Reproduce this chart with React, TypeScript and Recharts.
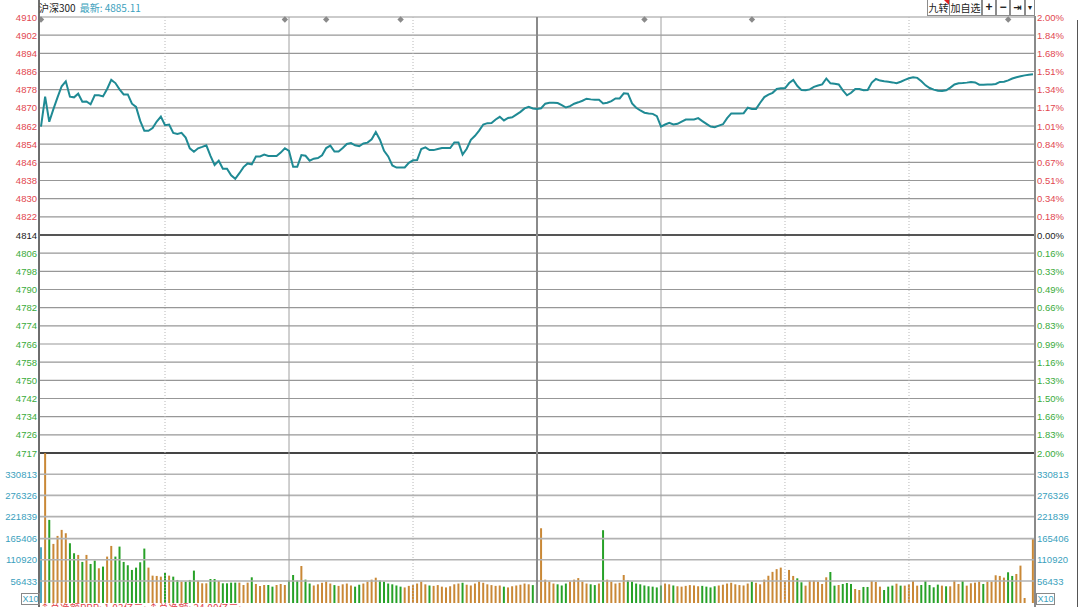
import React from 'react';
import { ComposedChart, BarChart, Line, Bar, Cell, XAxis, YAxis, ReferenceLine, ReferenceDot } from 'recharts';

const PREV_CLOSE = 4814.1;
const LATEST = '4885.11';

const priceTickLabels = ['4910','4902','4894','4886','4878','4870','4862','4854','4846','4838','4830','4822','4814','4806','4798','4790','4782','4774','4766','4758','4750','4742','4734','4726','4717'];
const pctTickLabels = ['2.00%','1.84%','1.68%','1.51%','1.34%','1.17%','1.01%','0.84%','0.67%','0.51%','0.34%','0.18%','0.00%','0.16%','0.33%','0.49%','0.66%','0.83%','0.99%','1.16%','1.33%','1.50%','1.66%','1.83%','2.00%'];
const volTicks = [56433, 110920, 165406, 221839, 276326, 330813];
const volTop = 385300;

const prices = [
  4862.0, 4875.2, 4864.1, 4869.7, 4874.9, 4879.8, 4882.0, 4875.2, 4874.9, 4876.5,
  4873.0, 4873.1, 4871.8, 4875.8, 4875.8, 4875.3, 4878.6, 4882.6, 4881.2, 4878.4,
  4876.2, 4876.2, 4872.1, 4870.7, 4864.5, 4860.1, 4860.1, 4861.3, 4864.2, 4866.4,
  4862.6, 4862.9, 4859.2, 4858.7, 4859.2, 4857.1, 4852.4, 4850.9, 4852.4, 4853.0,
  4853.7, 4849.0, 4845.0, 4846.9, 4843.4, 4843.4, 4840.5, 4838.9, 4841.4, 4844.1,
  4845.7, 4845.3, 4848.8, 4848.8, 4849.6, 4849.0, 4849.0, 4849.0, 4850.5, 4852.4,
  4851.2, 4844.2, 4844.2, 4849.4, 4849.1, 4846.9, 4847.8, 4848.1, 4849.3, 4852.5,
  4853.6, 4851.0, 4851.0, 4852.5, 4854.3, 4854.7, 4853.7, 4853.3, 4854.5, 4854.9,
  4856.4, 4859.6, 4856.2, 4851.3, 4848.8, 4844.8, 4843.9, 4843.9, 4843.9, 4846.0,
  4847.1, 4847.2, 4852.1, 4852.8, 4851.6, 4851.6, 4852.1, 4852.5, 4852.5, 4852.5,
  4855.0, 4855.0, 4849.6, 4852.2, 4856.1, 4857.9, 4860.2, 4862.9, 4863.5, 4863.6,
  4865.1, 4866.3, 4864.7, 4865.8, 4866.1, 4867.3, 4868.5, 4870.0, 4870.7, 4870.0,
  4869.8, 4870.1, 4872.1, 4872.5, 4872.5, 4872.4, 4871.5, 4870.4, 4871.0, 4872.1,
  4872.7, 4873.4, 4874.3, 4874.0, 4873.8, 4873.8, 4872.2, 4872.5, 4873.2, 4874.4,
  4874.4, 4876.7, 4876.5, 4872.2, 4870.3, 4869.1, 4868.1, 4867.8, 4867.6, 4866.6,
  4862.0, 4862.9, 4863.6, 4862.9, 4863.2, 4864.2, 4865.1, 4865.1, 4865.1, 4865.7,
  4864.4, 4863.2, 4862.0, 4861.7, 4862.4, 4863.0, 4865.7, 4867.8, 4867.8, 4867.8,
  4867.9, 4870.3, 4869.8, 4869.8, 4872.5, 4875.0, 4876.1, 4876.9, 4878.6, 4878.9,
  4878.9, 4881.2, 4882.6, 4879.9, 4878.1, 4878.0, 4878.4, 4879.5, 4880.1, 4880.6,
  4883.2, 4881.1, 4880.9, 4880.6, 4878.0, 4875.8, 4876.9, 4878.6, 4878.6, 4878.0,
  4878.1, 4881.4, 4883.0, 4882.3, 4882.0, 4881.8, 4881.5, 4881.1, 4881.8, 4882.6,
  4883.3, 4883.8, 4883.5, 4882.0, 4880.2, 4879.0, 4878.3, 4877.8, 4877.7, 4878.0,
  4879.2, 4880.6, 4881.1, 4881.2, 4881.4, 4881.7, 4881.5, 4880.5, 4880.5, 4880.6,
  4880.6, 4880.8, 4881.7, 4881.8, 4882.4, 4883.2, 4883.8, 4884.2, 4884.6, 4884.9,
  4885.11,
];

const volumes = [
  143000, 385000, 213500, 151800, 172300, 187800, 179200, 153500, 127800, 123500,
  105500, 123500, 100300, 108900, 89200, 93500, 119200, 146600, 119200, 144900,
  105500, 96900, 84900, 90900, 104600, 139800, 90900, 70300, 69500, 67700,
  77200, 70300, 67700, 59200, 54900, 54900, 59200, 83200, 57400, 50600,
  50600, 61700, 61700, 56600, 50600, 50600, 52300, 52300, 52300, 46300,
  52300, 66000, 48900, 43700, 46300, 46300, 42000, 46300, 48900, 46300,
  57400, 72000, 57400, 95000,
  60000, 50000, 45000, 48000, 52000, 55000, 50000, 46000, 44000, 48000, 50000, 45000, 42000, 47000, 50000, 55000, 60000,
  65000, 58000, 55000, 50000, 48000, 45000, 42000, 40000, 44000, 46000,
  50000, 55000, 48000, 45000, 44000, 46000, 42000, 40000, 43000, 48000,
  50000, 52000, 47000, 45000, 50000, 55000, 52000, 48000, 46000, 44000,
  45000, 42000, 40000, 43000, 45000, 47000, 50000, 48000, 46000, 52000,
  192000,
  60000, 55000, 50000, 48000, 45000, 50000, 55000, 60000, 64000,
  55000, 50000, 48000, 46000, 50000, 187000, 60000, 55000, 50000, 52000,
  72000, 58000, 55000, 50000, 48000, 45000, 43000, 42000, 40000, 45000,
  50000, 48000, 45000, 43000, 42000, 44000, 46000, 45000, 43000, 44000,
  42000, 40000, 43000, 45000, 47000, 50000, 52000, 48000, 46000, 45000,
  50000, 55000, 52000, 48000, 60000, 70000, 80000, 87000,
  90900, 57400, 84900, 69500, 63400, 53200, 44600, 57400, 57400, 54900,
  48900, 66000, 79700, 44600, 46300, 48900, 51400, 48900, 36000, 33400,
  41200, 41200, 56600, 54000, 42000, 33400, 42000, 44600, 49700, 44600,
  44600, 48000, 56600, 44600, 46300, 56600, 46300, 40300, 47200, 44600,
  42900, 42900, 57400, 48900, 56600, 44600, 50600, 52300, 54900, 48900,
  54900, 54900, 71200, 69500, 65200, 78900, 69500, 74600, 96000, 12900,
  0, 164600,
];

// t = opening auction, u = up minute, d = down minute
const volumeDirections = [
  'tuduuuuddu', 'dudduduudd', 'dddddduuuu', 'duddudddu u'.replace(' ', ''), 'uddudddduu',
  'uduuudduuu', 'dddudduuuu', 'uduuuudduu', 'uudddddduu', 'uuuuduuuuu',
  'uuduuuuuuu', 'uuduuuuuud', 'duuuudddu u'.replace(' ', ''), 'uuuddudu uu'.replace(' ', ''), 'uudddddddd',
  'duuduuuuuu', 'dddduuuuuu', 'uuduuuuuuu', 'uuudduuuuu', 'udduddduud',
  'duuudddudu', 'uuudddddud', 'uuuduuuudu', 'uuuudduuuu', 'u',
].join('');

const markerTimes = ['09:30', '10:29', '10:39', '10:57', '13:26', '13:52', '14:54'];
const halfHourTimes = ['10:00', '10:30', '11:00', '11:30', '13:30', '14:00', '14:30'];
const solidTimes = ['10:30', '13:30'];

const pad = (n: number) => (n < 10 ? '0' + n : '' + n);
const times: string[] = [];
for (let k = 0; k <= 240; k++) {
  const m = k <= 120 ? 570 + k : 780 + (k - 120);
  times.push(pad(Math.floor(m / 60)) + ':' + pad(m % 60));
}

const rows = times.map((t, k) => ({ t, price: prices[k], vol: volumes[k], dir: volumeDirections[k] || 'u' }));

const priceTicks = priceTickLabels.map((_, i) => PREV_CLOSE * (1 + ((12 - i) * 0.02) / 12));
const pLow = priceTicks[24];
const pHigh = priceTicks[0];

const RED = '#e2474f';
const GREEN = '#3aab3a';
const TEAL = '#3a9fbd';
const LINE = '#1f8a94';
const UP = '#c98836';
const DOWN = '#27a127';
const FONT = '"Liberation Sans", Arial, sans-serif';
const CJK = '"Noto Sans CJK SC", "Liberation Sans", sans-serif';

const tickColor = (i: number) => (i < 12 ? RED : i === 12 ? '#222' : GREEN);
const findIdx = (v: number) => {
  let best = 0;
  priceTicks.forEach((p, i) => { if (Math.abs(p - v) < Math.abs(priceTicks[best] - v)) best = i; });
  return best;
};

const LeftTick = (props: any) => {
  const { x, y, payload } = props;
  const i = findIdx(payload.value);
  return (
    <text x={x} y={y} dy={3.5} textAnchor="end" fontSize={9.5} fontFamily={FONT} fill={tickColor(i)}>{priceTickLabels[i]}</text>
  );
};
const RightTick = (props: any) => {
  const { x, y, payload } = props;
  const i = findIdx(payload.value);
  return (
    <text x={x} y={y} dy={3.5} textAnchor="start" fontSize={9.5} fontFamily={FONT} fill={tickColor(i)}>{pctTickLabels[i]}</text>
  );
};
const VolLeftTick = (props: any) => {
  const { x, y, payload } = props;
  return <text x={x} y={y} dy={3.5} textAnchor="end" fontSize={9.5} fontFamily={FONT} fill={TEAL}>{payload.value}</text>;
};
const VolRightTick = (props: any) => {
  const { x, y, payload } = props;
  return <text x={x} y={y} dy={3.5} textAnchor="start" fontSize={9.5} fontFamily={FONT} fill={TEAL}>{payload.value}</text>;
};

const Diamond = (props: any) => {
  const { cx, cy } = props;
  const c = cy + 2.5;
  return <path d={`M${cx},${c - 3.2}L${cx + 3.2},${c}L${cx},${c + 3.2}L${cx - 3.2},${c}Z`} fill="#8a8a8a" />;
};

const btn = (left: number, width: number, label: string, extra?: React.CSSProperties) => (
  <div style={{ position: 'absolute', left, top: 0, width, height: 16, border: '1px solid #8c8c8c', borderTop: 'none', background: '#fff', fontSize: 10, lineHeight: '15px', textAlign: 'center', color: '#222', fontFamily: CJK, boxSizing: 'border-box', whiteSpace: 'nowrap', overflow: 'visible', ...extra }}>{label}</div>
);

export default function App() {
  return (
    <div style={{ position: 'absolute', left: 0, top: 0, width: 1080, height: 607, background: '#fff', overflow: 'hidden', fontFamily: FONT }}>
      <ComposedChart width={1080} height={463} data={rows} margin={{ top: 17, right: 0, bottom: 10, left: 0 }} style={{ position: 'absolute', left: 0, top: 0 }}>
        <XAxis dataKey="t" hide padding={{ left: 2, right: 2 }} />
        <YAxis yAxisId="l" domain={[pLow, pHigh]} ticks={priceTicks} interval={0} allowDataOverflow width={39} axisLine={false} tickLine={false} tickSize={0} tickMargin={2} tick={<LeftTick />} />
        <YAxis yAxisId="r" orientation="right" domain={[pLow, pHigh]} ticks={priceTicks} interval={0} allowDataOverflow width={45} axisLine={false} tickLine={false} tickSize={0} tickMargin={2} tick={<RightTick />} />
        {priceTicks.map((v, i) => (
          <ReferenceLine key={'h' + i} yAxisId="l" y={v} stroke={i === 12 ? '#555' : i === 24 ? '#444' : '#979797'} strokeWidth={i === 12 || i === 24 ? 2 : 1.2} ifOverflow="visible" />
        ))}
        {halfHourTimes.map((t) => (
          <ReferenceLine key={'v' + t} yAxisId="l" x={t} stroke={t === '11:30' ? '#8a8a8a' : solidTimes.includes(t) ? '#a0a0a0' : '#b8b8b8'} strokeWidth={t === '11:30' ? 2 : 1} strokeDasharray={t === '11:30' || solidTimes.includes(t) ? undefined : '1 2'} />
        ))}
        <Line yAxisId="l" type="linear" dataKey="price" stroke={LINE} strokeWidth={2} dot={false} isAnimationActive={false} />
        {markerTimes.map((t) => (
          <ReferenceDot key={'m' + t} yAxisId="l" x={t} y={pHigh} r={3} shape={<Diamond />} ifOverflow="visible" />
        ))}
      </ComposedChart>

      <BarChart width={1080} height={154} data={rows} margin={{ top: 0, right: 0, bottom: 4, left: 0 }} barCategoryGap={0} style={{ position: 'absolute', left: 0, top: 453 }}>
        <XAxis dataKey="t" hide />
        <YAxis yAxisId="l" domain={[0, volTop]} ticks={volTicks} interval={0} allowDataOverflow width={39} axisLine={false} tickLine={false} tickSize={0} tickMargin={2} tick={<VolLeftTick />} />
        <YAxis yAxisId="r" orientation="right" domain={[0, volTop]} ticks={volTicks} interval={0} allowDataOverflow width={45} axisLine={false} tickLine={false} tickSize={0} tickMargin={2} tick={<VolRightTick />} />
        {volTicks.map((v) => (
          <ReferenceLine key={'vh' + v} yAxisId="l" y={v} stroke="#b2b2b2" strokeWidth={1.6} />
        ))}
        {halfHourTimes.map((t) => (
          <ReferenceLine key={'vv' + t} yAxisId="l" x={t} stroke={t === '11:30' ? '#8a8a8a' : solidTimes.includes(t) ? '#a0a0a0' : '#b8b8b8'} strokeWidth={t === '11:30' ? 2 : 1} strokeDasharray={t === '11:30' || solidTimes.includes(t) ? undefined : '1 2'} />
        ))}
        <Bar yAxisId="l" dataKey="vol" barSize={2} isAnimationActive={false}>
          {rows.map((r, i) => (
            <Cell key={i} fill={r.dir === 't' ? '#4fa8c0' : r.dir === 'd' ? DOWN : UP} />
          ))}
        </Bar>
      </BarChart>

      {/* frame lines */}
      <div style={{ position: 'absolute', left: 38, top: 0, width: 2, height: 607, background: '#6e6e6e' }} />
      <div style={{ position: 'absolute', left: 1034, top: 16, width: 2, height: 591, background: '#8a8a8a' }} />
      <div style={{ position: 'absolute', left: 1077, top: 20, width: 1, height: 587, background: '#555' }} />

      {/* header */}
      <div style={{ position: 'absolute', left: 39, top: 1, fontSize: 10, lineHeight: '13px', whiteSpace: 'nowrap', fontFamily: CJK }}>
        <span style={{ color: '#222' }}>沪深300</span>
        <span style={{ color: TEAL, marginLeft: 4 }}>最新: {LATEST}</span>
      </div>
      {btn(927, 23, '九转')}
      <div style={{ position: 'absolute', left: 944, top: 0, width: 0, height: 0, borderTop: '5px solid #e02020', borderLeft: '5px solid transparent' }} />
      {btn(949, 33, '加自选')}
      {btn(982, 14, '+', { fontWeight: 700, fontSize: 12, fontFamily: FONT, lineHeight: '14px' })}
      {btn(996, 14, '−', { fontWeight: 700, fontSize: 12, fontFamily: FONT, lineHeight: '14px' })}
      {btn(1010, 15, '⇥', { fontWeight: 700, fontSize: 10, fontFamily: '"DejaVu Sans", sans-serif' })}
      {btn(1025, 10, '▾', { fontSize: 8, fontFamily: '"DejaVu Sans", sans-serif' })}

      {/* X10 boxes */}
      <div style={{ position: 'absolute', left: 21, top: 593, width: 17, height: 10, border: '1px solid #888', fontSize: 9, lineHeight: '10px', color: TEAL, textAlign: 'center', boxSizing: 'content-box' }}>X10</div>
      <div style={{ position: 'absolute', left: 1036, top: 593, width: 17, height: 10, border: '1px solid #888', fontSize: 9, lineHeight: '10px', color: TEAL, textAlign: 'center' }}>X10</div>

      {/* footer text (cut off at the page edge, as in the reference) */}
      <div style={{ position: 'absolute', left: 40, top: 602, fontSize: 10, lineHeight: '12px', color: RED, whiteSpace: 'nowrap', fontFamily: CJK }}>↑总净额PPP: 1.03亿元;  ↑总净额: 24.00亿元;</div>
    </div>
  );
}
